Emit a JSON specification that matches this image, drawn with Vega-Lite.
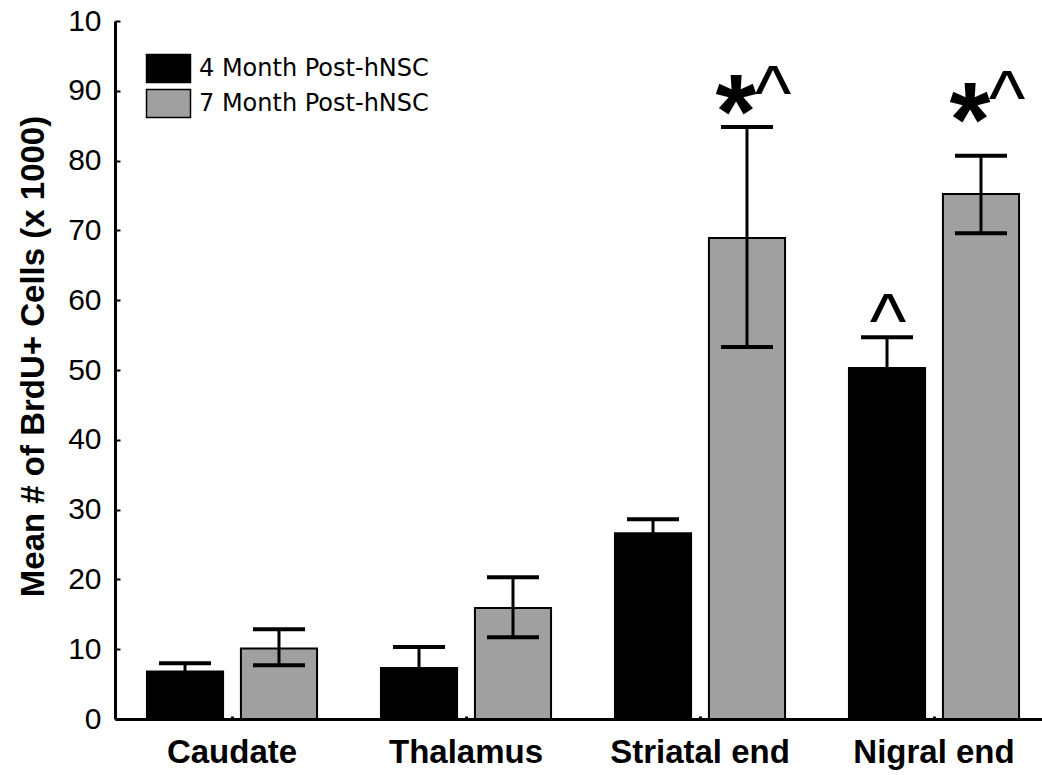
{
  "$schema": "https://vega.github.io/schema/vega-lite/v6.json",
  "width": 927,
  "height": 698,
  "autosize": {"type": "none"},
  "padding": {"left": 115, "top": 21, "right": 0, "bottom": 56},
  "background": "white",
  "config": {"view": {"stroke": null}, "font": "Liberation Sans"},
  "datasets": {
    "bars": [
      {"region": "Caudate", "group": "4 Month Post-hNSC", "mean": 6.8, "lo": 5.6, "hi": 8.0},
      {"region": "Caudate", "group": "7 Month Post-hNSC", "mean": 10.1, "lo": 7.7, "hi": 12.85},
      {"region": "Thalamus", "group": "4 Month Post-hNSC", "mean": 7.3, "lo": 4.3, "hi": 10.3},
      {"region": "Thalamus", "group": "7 Month Post-hNSC", "mean": 15.9, "lo": 11.7, "hi": 20.3},
      {"region": "Striatal end", "group": "4 Month Post-hNSC", "mean": 26.6, "lo": 24.6, "hi": 28.6},
      {"region": "Striatal end", "group": "7 Month Post-hNSC", "mean": 68.9, "lo": 53.3, "hi": 84.8},
      {"region": "Nigral end", "group": "4 Month Post-hNSC", "mean": 50.3, "lo": 45.9, "hi": 54.7},
      {"region": "Nigral end", "group": "7 Month Post-hNSC", "mean": 75.2, "lo": 69.6, "hi": 80.7}
    ],
    "stars": [
      {"region": "Striatal end", "group": "7 Month Post-hNSC", "sym": "*", "pos": 81.8},
      {"region": "Nigral end", "group": "7 Month Post-hNSC", "sym": "*", "pos": 80.7}
    ],
    "carets7": [
      {"region": "Striatal end", "group": "7 Month Post-hNSC", "sym": "^", "pos": 85.8},
      {"region": "Nigral end", "group": "7 Month Post-hNSC", "sym": "^", "pos": 85.1}
    ],
    "carets4": [
      {"region": "Nigral end", "group": "4 Month Post-hNSC", "sym": "^", "pos": 53.2}
    ]
  },
  "layer": [
    {
      "data": {"name": "bars"},
      "mark": {"type": "bar", "stroke": "black", "strokeWidth": 2},
      "encoding": {
        "x": {
          "field": "region", "type": "nominal",
          "sort": ["Caudate", "Thalamus", "Striatal end", "Nigral end"],
          "scale": {"range": [0, 936], "paddingInner": 0, "paddingOuter": 0},
          "axis": {
            "title": null, "labelAngle": 0,
            "labelFont": "Liberation Sans", "labelFontWeight": "bold", "labelFontSize": 33, "labelColor": "black",
            "labelPadding": 20,
            "domainColor": "black", "domainWidth": 3,
            "tickColor": "black", "tickSize": -3, "tickWidth": 3
          }
        },
        "xOffset": {
          "field": "group", "type": "nominal",
          "scale": {"paddingInner": 0.19, "paddingOuter": 0.34}
        },
        "y": {
          "field": "mean", "type": "quantitative",
          "scale": {"domain": [0, 100], "nice": false},
          "axis": {
            "title": "Mean # of BrdU+ Cells (x 1000)",
            "titleFont": "Liberation Sans", "titleFontSize": 33, "titleFontWeight": "bold", "titleColor": "black",
            "titleX": -72, "titleY": 335, "titleBaseline": "alphabetic", "titleAngle": -90, "titleAlign": "center",
            "values": [0, 10, 20, 30, 40, 50, 60, 70, 80, 90, 100],
            "labelExpr": "datum.value == 100 ? '10' : datum.label",
            "labelFont": "Liberation Sans", "labelFontSize": 30, "labelColor": "black", "labelPadding": 19,
            "domainColor": "black", "domainWidth": 3,
            "tickColor": "black", "tickSize": -5, "tickWidth": 2,
            "grid": false
          }
        },
        "fill": {
          "field": "group", "type": "nominal",
          "scale": {"domain": ["4 Month Post-hNSC", "7 Month Post-hNSC"], "range": ["black", "#a0a0a0"]},
          "legend": {
            "orient": "none", "legendX": 36, "legendY": 30, "title": null,
            "symbolType": "M-1.333,-0.848L1.333,-0.848L1.333,0.848L-1.333,0.848Z",
            "symbolSize": 1089, "symbolStrokeColor": "black", "symbolStrokeWidth": 1.5, "symbolOpacity": 1,
            "labelFont": "DejaVu Sans", "labelFontSize": 24, "labelColor": "black", "labelOffset": 13,
            "labelLimit": 500,
            "rowPadding": 0, "padding": 0
          }
        }
      }
    },
    {
      "data": {"name": "bars"},
      "mark": {"type": "rule", "color": "black", "strokeWidth": 3, "opacity": 1},
      "encoding": {
        "x": {"field": "region", "type": "nominal", "sort": ["Caudate", "Thalamus", "Striatal end", "Nigral end"]},
        "xOffset": {"field": "group", "type": "nominal"},
        "y": {"field": "lo", "type": "quantitative"},
        "y2": {"field": "hi"}
      }
    },
    {
      "data": {"name": "bars"},
      "mark": {"type": "tick", "color": "black", "size": 52, "thickness": 4, "opacity": 1},
      "encoding": {
        "x": {"field": "region", "type": "nominal", "sort": ["Caudate", "Thalamus", "Striatal end", "Nigral end"]},
        "xOffset": {"field": "group", "type": "nominal"},
        "y": {"field": "hi", "type": "quantitative"}
      }
    },
    {
      "data": {"name": "bars"},
      "mark": {"type": "tick", "color": "black", "size": 52, "thickness": 4, "opacity": 1},
      "encoding": {
        "x": {"field": "region", "type": "nominal", "sort": ["Caudate", "Thalamus", "Striatal end", "Nigral end"]},
        "xOffset": {"field": "group", "type": "nominal"},
        "y": {"field": "lo", "type": "quantitative"}
      }
    },
    {
      "mark": {"type": "rule", "color": "black", "strokeWidth": 3},
      "encoding": {"y": {"datum": 100}}
    },
    {
      "data": {"name": "stars"},
      "mark": {"type": "text", "font": "Liberation Sans", "fontSize": 105, "fontWeight": "bold", "baseline": "alphabetic", "align": "center", "dx": -11, "color": "black"},
      "encoding": {
        "x": {"field": "region", "type": "nominal", "sort": ["Caudate", "Thalamus", "Striatal end", "Nigral end"]},
        "xOffset": {"field": "group", "type": "nominal"},
        "y": {"field": "pos", "type": "quantitative"},
        "text": {"field": "sym"}
      }
    },
    {
      "data": {"name": "carets7"},
      "mark": {"type": "text", "font": "Liberation Sans", "fontSize": 78, "baseline": "alphabetic", "align": "center", "dx": 26, "color": "black"},
      "encoding": {
        "x": {"field": "region", "type": "nominal", "sort": ["Caudate", "Thalamus", "Striatal end", "Nigral end"]},
        "xOffset": {"field": "group", "type": "nominal"},
        "y": {"field": "pos", "type": "quantitative"},
        "text": {"field": "sym"}
      }
    },
    {
      "data": {"name": "carets4"},
      "mark": {"type": "text", "font": "Liberation Sans", "fontSize": 78, "baseline": "alphabetic", "align": "center", "dx": 1, "color": "black"},
      "encoding": {
        "x": {"field": "region", "type": "nominal", "sort": ["Caudate", "Thalamus", "Striatal end", "Nigral end"]},
        "xOffset": {"field": "group", "type": "nominal"},
        "y": {"field": "pos", "type": "quantitative"},
        "text": {"field": "sym"}
      }
    }
  ]
}
